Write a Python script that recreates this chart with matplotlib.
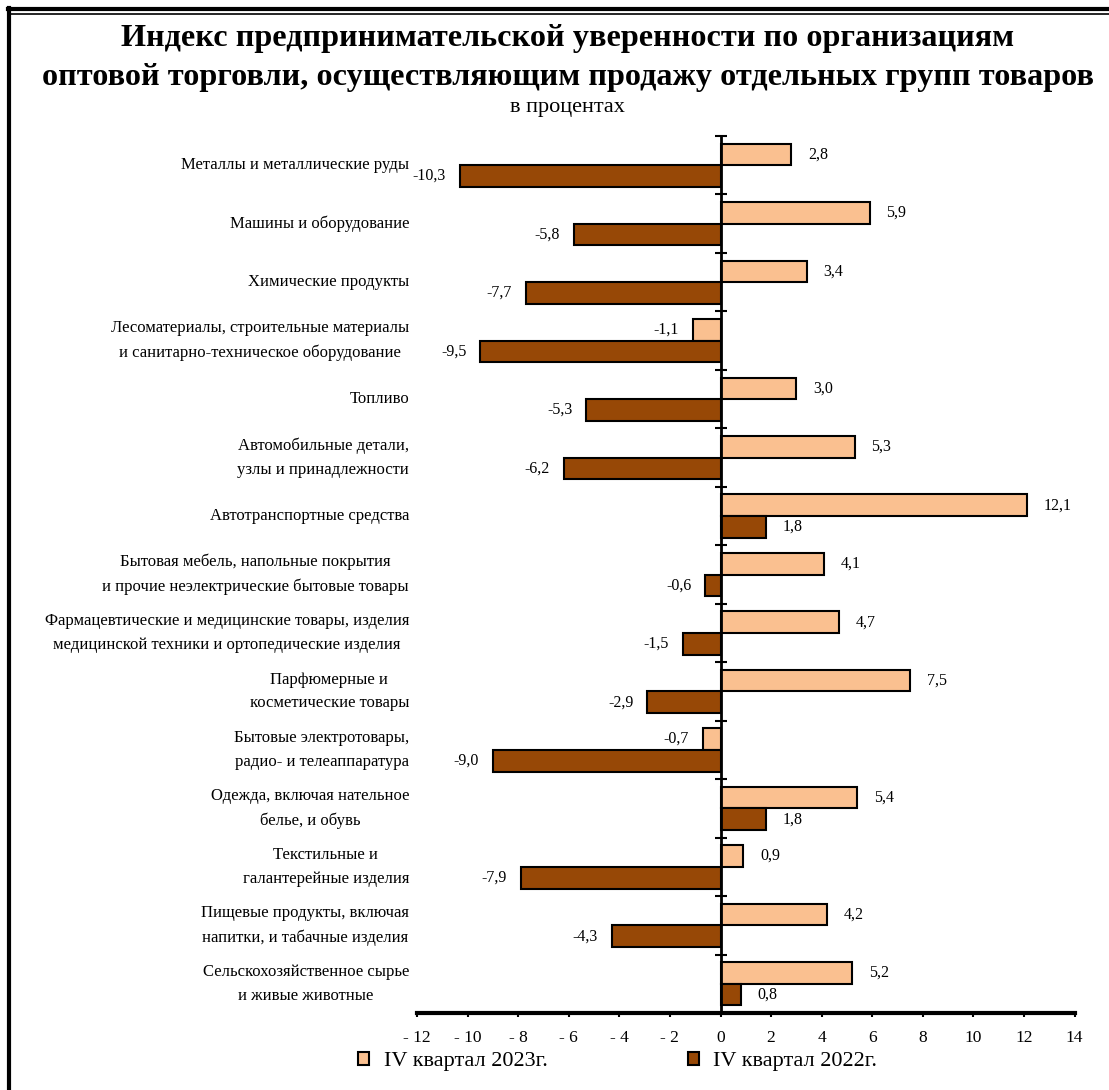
import matplotlib
matplotlib.use('Agg')
import matplotlib.pyplot as plt
from matplotlib.lines import Line2D
from matplotlib.patches import Patch
import numpy as np

plt.rcParams['font.family'] = ['Liberation Serif', 'DejaVu Serif']

# Данные
categories = [
    'Металлы и металлические руды',
    'Машины и оборудование',
    'Химические продукты',
    'Лесоматериалы, строительные материалы\nи санитарно-техническое оборудование',
    'Топливо',
    'Автомобильные детали,\nузлы и принадлежности',
    'Автотранспортные средства',
    'Бытовая мебель, напольные покрытия\nи прочие неэлектрические бытовые товары',
    'Фармацевтические и медицинские товары, изделия\nмедицинской техники и ортопедические изделия',
    'Парфюмерные и\nкосметические товары',
    'Бытовые электротовары,\nрадио- и телеаппаратура',
    'Одежда, включая нательное\nбелье, и обувь',
    'Текстильные и\nгалантерейные изделия',
    'Пищевые продукты, включая\nнапитки, и табачные изделия',
    'Сельскохозяйственное сырье\nи живые животные',
]
q4_2023 = [2.8, 5.9, 3.4, -1.1, 3.0, 5.3, 12.1, 4.1, 4.7, 7.5, -0.7, 5.4, 0.9, 4.2, 5.2]
q4_2022 = [-10.3, -5.8, -7.7, -9.5, -5.3, -6.2, 1.8, -0.6, -1.5, -2.9, -9.0, 1.8, -7.9, -4.3, 0.8]
xticks = list(range(-12, 15, 2))
xtick_labels = [('- ' + str(-t)) if t < 0 else str(t) for t in xticks]

light = '#FAC090'
dark = '#974806'

fig = plt.figure(figsize=(11.09, 10.90), dpi=100)
ax = fig.add_axes([0.376, 0.0706, 0.593, 0.8046])

n = len(categories)
y = np.arange(n) + 0.5
h = 0.37

ax.barh(y - h / 2, q4_2023, height=h, color=light, edgecolor='black', linewidth=1.5)
ax.barh(y + h / 2, q4_2022, height=h, color=dark, edgecolor='black', linewidth=1.5)

def fmt(v):
    return f'{v:.1f}'.replace('.', ',')

for vals, off in ((q4_2023, -h / 2), (q4_2022, h / 2)):
    for i, v in enumerate(vals):
        if v >= 0:
            ax.annotate(fmt(v), (v, y[i] + off), xytext=(12, 0), textcoords='offset points',
                        ha='left', va='center', fontsize=11.5)
        else:
            ax.annotate(fmt(v), (v, y[i] + off), xytext=(-10, 0), textcoords='offset points',
                        ha='right', va='center', fontsize=11.5)

# подписи категорий
for i, c in enumerate(categories):
    ax.text(-0.012, y[i], c, transform=ax.get_yaxis_transform(), ha='right', va='center',
            multialignment='center', fontsize=12, linespacing=1.65)

ax.set_xlim(-12, 14)
ax.set_ylim(n, 0)
ax.set_xticks(xticks)
ax.set_xticklabels(xtick_labels, fontsize=12.5)
ax.tick_params(axis='x', direction='out', length=3, width=1.5, pad=9)
ax.set_yticks(np.arange(n + 1))
ax.set_yticklabels([])
ax.tick_params(axis='y', direction='inout', length=9, width=1.5)

ax.spines['top'].set_visible(False)
ax.spines['right'].set_visible(False)
ax.spines['left'].set_position(('data', 0))
ax.spines['left'].set_linewidth(2)
ax.spines['bottom'].set_linewidth(3)

# заголовок
fig.text(0.512, 0.965, 'Индекс предпринимательской уверенности по организациям',
         ha='center', va='center', fontsize=23.2, fontweight='bold')
fig.text(0.512, 0.929, 'оптовой торговли, осуществляющим продажу отдельных групп товаров',
         ha='center', va='center', fontsize=23.2, fontweight='bold')
fig.text(0.512, 0.901, 'в процентах', ha='center', va='center', fontsize=16)

# легенда
handles = [Patch(facecolor=light, edgecolor='black', linewidth=1.5),
           Patch(facecolor=dark, edgecolor='black', linewidth=1.5)]
fig.legend(handles, ['IV квартал 2023г.', 'IV квартал 2022г.'], loc='center',
           bbox_to_anchor=(0.557, 0.026), ncol=2, frameon=False, fontsize=16,
           handlelength=0.5, handleheight=0.5, handletextpad=0.65, columnspacing=6.3)

# рамка
fig.add_artist(Line2D([0.0072, 1.0], [0.9915, 0.9915], transform=fig.transFigure, color='black', linewidth=3))
fig.add_artist(Line2D([0.0085, 1.0], [0.9875, 0.9875], transform=fig.transFigure, color='black', linewidth=1.2))
fig.add_artist(Line2D([0.0081, 0.0081], [0.0, 0.9925], transform=fig.transFigure, color='black', linewidth=3))

fig.savefig('out.png', dpi=100)
